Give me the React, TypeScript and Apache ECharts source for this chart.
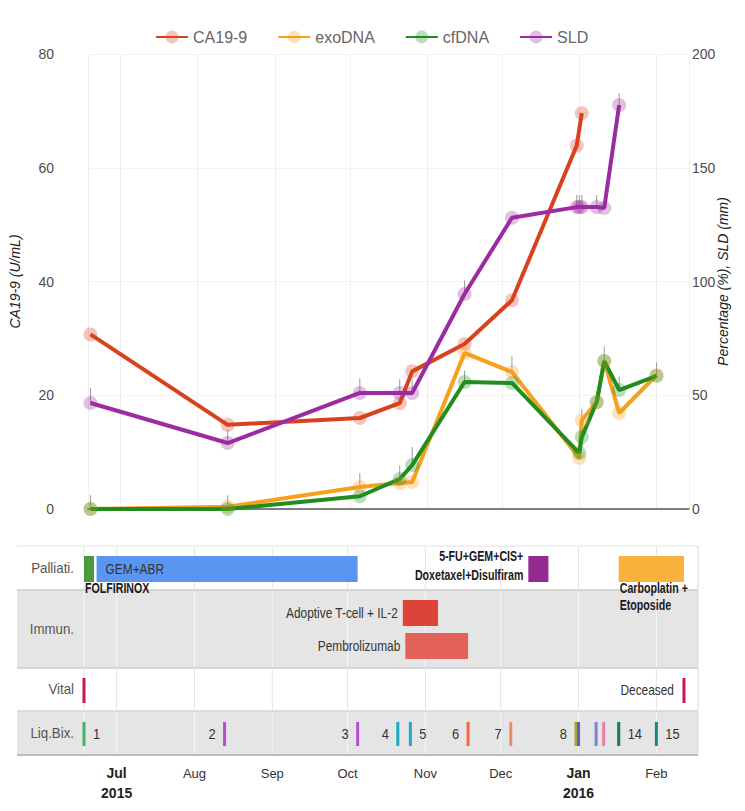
import React, { useEffect, useRef } from "react";
import * as echarts from "echarts";

// ---------- data ----------
const X_MIN = "2015-06-18";
const X_MAX = "2016-02-14";

const caDates = ["2015-06-19", "2015-08-13", "2015-10-05", "2015-10-21", "2015-10-26", "2015-11-16", "2015-12-05", "2015-12-31", "2016-01-02"];
const caValues = [30.7, 14.8, 16.0, 18.6, 24.2, 29.0, 36.7, 63.9, 69.6];

const sldDates = ["2015-06-19", "2015-08-13", "2015-10-05", "2015-10-21", "2015-10-26", "2015-11-16", "2015-12-05", "2015-12-31", "2016-01-01", "2016-01-02", "2016-01-08", "2016-01-11", "2016-01-17"];
const sldValues = [46.6, 29.0, 51.0, 51.0, 51.0, 94.5, 128.0, 132.7, 132.7, 132.7, 132.7, 132.3, 177.6];
const sldErr = [6.5, 6, 6.5, 6, 6, 6, 0, 5.3, 5.3, 5.3, 5.3, 0, 5.3];

const dnaDates = ["2015-06-19", "2015-08-13", "2015-10-05", "2015-10-21", "2015-10-26", "2015-11-16", "2015-12-05", "2016-01-01", "2016-01-02", "2016-01-08", "2016-01-11", "2016-01-17", "2016-02-01"];
const exoValues = [0, 1.0, 9.7, 11.4, 11.9, 68.6, 60.2, 22.4, 39.0, 47.0, 65.0, 42.2, 58.9];
const exoErr = [0, 0, 6, 0, 0, 0, 7, 0, 5, 0, 6.5, 0, 0];
const cfValues = [0, 0, 5.6, 13.2, 19.3, 55.8, 55.4, 24.6, 31.6, 47.0, 65.0, 52.3, 58.5];
const cfErr = [6, 6, 0, 6, 8, 5, 0, 0, 0, 0, 0, 6, 6];

const rowNames = ["Palliati.", "Immun.", "Vital", "Liq.Bix."];

const treatNames = ["FOLFIRINOX", "GEM+ABR", "5-FU+GEM+CIS+\nDoxetaxel+Disulfiram", "Carboplatin +\nEtoposide", "Adoptive T-cell + IL-2", "Pembrolizumab"];
const treatStart = ["2015-06-18", "2015-06-23", "2015-12-12", "2016-01-17", "2015-10-23", "2015-10-24"];
const treatEnd = ["2015-06-22", "2015-10-05", "2015-12-20", "2016-02-12", "2015-11-06", "2015-11-18"];
const treatLane = [0, 0, 0, 0, 1, 2];

const vitalDates = ["2015-06-18", "2016-02-12"];
const vitalLabels = ["", "Deceased"];

const liqDates = ["2015-06-18", "2015-08-13", "2015-10-05", "2015-10-21", "2015-10-26", "2015-11-18", "2015-12-05", "2015-12-31", "2016-01-01", "2016-01-08", "2016-01-11", "2016-01-17", "2016-02-01"];
const liqLabels = ["1", "2", "3", "4", "5", "6", "7", "8", "", "", "", "14", "15"];

const monthStarts = ["2015-07-01", "2015-08-01", "2015-09-01", "2015-10-01", "2015-11-01", "2015-12-01", "2016-01-01", "2016-02-01"];
const monthAbbr = ["Jan", "Feb", "Mar", "Apr", "May", "Jun", "Jul", "Aug", "Sep", "Oct", "Nov", "Dec"];

// ---------- styles / layout ----------
const COLORS = { ca: "#d9411e", exo: "#f7a01c", cf: "#1f8e1f", sld: "#9b2ba2" };
const TREAT_COLORS = ["#4b9a3c", "#5b95f2", "#952a91", "#f9b23b", "#dc4437", "#e2625a"];
const TREAT_LABEL_PLACE = ["below", "inside", "left", "below", "left", "left"];
const TREAT_LABEL_BOLD = [true, false, true, true, false, false];
const LIQ_COLORS = ["#3db36b", "#b44fd0", "#b44fd0", "#1fa8c4", "#1fa8c4", "#f0683f", "#f28a62", "#a9a334", "#5560b8", "#7b84d8", "#f07fa8", "#127a66", "#1a8a78"];
const LIQ_LABEL_SIDE = ["right", "left", "left", "left", "right", "left", "left", "left", "left", "left", "left", "right", "right"];
const VITAL_COLOR = "#c2185b";

const SANS = "'Liberation Sans', Arial, sans-serif";
const REG_SCALE = 0.85;
const BOLD_SCALE = 0.76;

const GRID_LEFT = 84;
const GRID_WIDTH = 605;
const TOP_GRID_TOP = 54;
const TOP_GRID_HEIGHT = 455;
const PANEL_TOP = 546;
const PANEL_HEIGHT = 209;
const PANEL_X0 = 17;
const PANEL_X1 = 698;
const ROW_EDGES = [0, 44, 122, 165, 209];
const ROW_BG = ["#ffffff", "#e5e5e5", "#ffffff", "#e5e5e5"];
const ROW_GRID = ["#e4e4e4", "#f6f6f6", "#e4e4e4", "#f6f6f6"];
const LANES = [[10, 36], [54, 80], [87, 113]];
const VITAL_BAND = [132, 157];
const LIQ_BAND = [176, 200];

function errSeries(name: string, dates: string[], vals: number[], errs: number[]) {
  return {
    name: name + "-err",
    type: "custom",
    xAxisIndex: 0,
    yAxisIndex: 1,
    silent: true,
    data: dates.map((d, i) => [d, vals[i], errs[i]]),
    renderItem: (params: any, api: any) => {
      const e = api.value(2);
      if (!e) return null;
      const p0 = api.coord([api.value(0), api.value(1)]);
      const p1 = api.coord([api.value(0), api.value(1) + e]);
      return { type: "line", shape: { x1: p0[0], y1: p0[1], x2: p1[0], y2: p1[1] }, style: { stroke: "#9a9a9a", lineWidth: 1 } };
    },
    z: 1,
  };
}

function lineSeries(name: string, dates: string[], vals: number[], color: string, yAxisIndex: number) {
  return {
    name,
    type: "line",
    xAxisIndex: 0,
    yAxisIndex,
    data: dates.map((d, i) => [d, vals[i]]),
    symbol: "circle",
    symbolSize: 14,
    lineStyle: { width: 4, color },
    itemStyle: { color, opacity: 0.3 },
    emphasis: { disabled: true },
  };
}

function scaledText(x: number, y: number, scale: number, style: any) {
  return { type: "text", x, y, scaleX: scale, style: { ...style, x: 0, y: 0 } };
}

const firstMonth = new Date(monthStarts[0] + "T00:00:00");

export default function App() {
  const ref = useRef<HTMLDivElement>(null);

  useEffect(() => {
    const chart = echarts.init(ref.current!, undefined, { renderer: "svg" });

    const graphics: any[] = [];
    for (let i = 0; i < 4; i++) {
      graphics.push({
        type: "rect",
        shape: { x: PANEL_X0, y: PANEL_TOP + ROW_EDGES[i], width: PANEL_X1 - PANEL_X0, height: ROW_EDGES[i + 1] - ROW_EDGES[i] },
        style: { fill: ROW_BG[i] },
        z: -10,
      });
      graphics.push({
        type: "text",
        x: 74,
        y: PANEL_TOP + (ROW_EDGES[i] + ROW_EDGES[i + 1]) / 2,
        scaleX: 0.95,
        style: {
          text: rowNames[i],
          x: 0,
          y: 0,
          align: "right",
          verticalAlign: "middle",
          fontSize: 14,
          fontFamily: SANS,
          fill: "#555",
        },
        z: -5,
      });
    }
    const borders = [
      { y: PANEL_TOP, c: "#e2e2e2", w: 1 },
      { y: PANEL_TOP + ROW_EDGES[1], c: "#cdcdcd", w: 1.5 },
      { y: PANEL_TOP + ROW_EDGES[2], c: "#cdcdcd", w: 1.5 },
      { y: PANEL_TOP + ROW_EDGES[3], c: "#d4d4d4", w: 1.5 },
      { y: PANEL_TOP + ROW_EDGES[4], c: "#bdbdbd", w: 2 },
    ];
    borders.forEach((b) =>
      graphics.push({ type: "line", shape: { x1: PANEL_X0, y1: b.y, x2: PANEL_X1, y2: b.y }, style: { stroke: b.c, lineWidth: b.w }, z: -4 })
    );
    graphics.push({ type: "line", shape: { x1: PANEL_X1, y1: PANEL_TOP, x2: PANEL_X1, y2: PANEL_TOP + PANEL_HEIGHT }, style: { stroke: "#d8d8d8", lineWidth: 1 }, z: -4 });

    const option: any = {
      animation: false,
      backgroundColor: "#ffffff",
      legend: {
        left: 150,
        top: 24,
        itemWidth: 32,
        itemHeight: 16,
        itemGap: 30,
        textStyle: { color: "#666", fontSize: 16, fontFamily: SANS },
        data: ["CA19-9", "exoDNA", "cfDNA", "SLD"],
      },
      graphic: graphics,
      grid: [
        { left: GRID_LEFT, top: TOP_GRID_TOP, width: GRID_WIDTH, height: TOP_GRID_HEIGHT },
        { left: GRID_LEFT, top: PANEL_TOP, width: GRID_WIDTH, height: PANEL_HEIGHT },
      ],
      xAxis: [
        {
          type: "time",
          gridIndex: 0,
          min: X_MIN,
          max: X_MAX,
          splitNumber: 8,
          maxInterval: 31 * 86400000,
          axisLine: { show: true, lineStyle: { color: "#555", width: 1.5 } },
          axisTick: { show: false },
          axisLabel: { show: false },
          splitLine: { show: true, lineStyle: { color: "#efefef", width: 1 } },
        },
        {
          type: "time",
          gridIndex: 1,
          min: X_MIN,
          max: X_MAX,
          splitNumber: 8,
          maxInterval: 31 * 86400000,
          axisLine: { show: false },
          axisTick: { show: false },
          splitLine: { show: false },
          axisLabel: {
            margin: 8,
            hideOverlap: false,
            formatter: (value: number) => {
              const d = new Date(value);
              const m = d.getMonth();
              const lab = monthAbbr[m];
              const isFirst = d.getFullYear() === firstMonth.getFullYear() && m === firstMonth.getMonth();
              if (isFirst || m === 0) return `{b|${lab}}\n{b|${d.getFullYear()}}`;
              return `{n|${lab}}`;
            },
            rich: {
              b: { fontWeight: "bold", fontSize: 14, color: "#222", fontFamily: SANS, lineHeight: 20 },
              n: { fontSize: 13, color: "#333", fontFamily: SANS, lineHeight: 20 },
            },
          },
        },
      ],
      yAxis: [
        {
          type: "value",
          gridIndex: 0,
          position: "left",
          min: 0,
          max: 80,
          interval: 20,
          name: "CA19-9 (U/mL)",
          nameLocation: "middle",
          nameRotate: 90,
          nameGap: 66,
          nameTextStyle: { fontStyle: "italic", fontSize: 14, color: "#222", fontFamily: SANS },
          axisLine: { show: false },
          axisTick: { show: false },
          axisLabel: { fontSize: 14, color: "#4d4d4d", margin: 34, fontFamily: SANS },
          splitLine: { show: true, lineStyle: { color: "#f3f3f3" } },
        },
        {
          type: "value",
          gridIndex: 0,
          position: "right",
          min: 0,
          max: 200,
          interval: 50,
          name: "Percentage (%), SLD (mm)",
          nameLocation: "middle",
          nameRotate: 90,
          nameGap: 27,
          nameMoveOverlap: false,
          nameTextStyle: { fontStyle: "italic", fontSize: 14, color: "#222", fontFamily: SANS },
          axisLine: { show: false },
          axisTick: { show: false },
          axisLabel: { fontSize: 14, color: "#4d4d4d", margin: 3, fontFamily: SANS },
          splitLine: { show: false },
        },
        {
          type: "value",
          gridIndex: 1,
          min: 0,
          max: PANEL_HEIGHT,
          inverse: true,
          show: false,
        },
      ],
      series: [
        // bottom panel: month grid lines
        {
          type: "custom",
          xAxisIndex: 1,
          yAxisIndex: 2,
          silent: true,
          clip: false,
          z: 0,
          data: [X_MIN, ...monthStarts].map((d) => [d]),
          renderItem: (params: any, api: any) => {
            const x = api.coord([api.value(0), 0])[0];
            const children: any[] = [];
            for (let i = 0; i < 4; i++) {
              const y0 = api.coord([api.value(0), ROW_EDGES[i] + 1])[1];
              const y1 = api.coord([api.value(0), ROW_EDGES[i + 1] - 1])[1];
              children.push({ type: "line", shape: { x1: x, y1: y0, x2: x, y2: y1 }, style: { stroke: ROW_GRID[i], lineWidth: 1 } });
            }
            return { type: "group", children };
          },
        },
        // treatments
        {
          type: "custom",
          xAxisIndex: 1,
          yAxisIndex: 2,
          silent: true,
          clip: false,
          z: 3,
          dimensions: [
            { name: "start", type: "time" },
            { name: "end", type: "time" },
            { name: "lane", type: "number" },
          ],
          encode: { x: [0, 1], y: 2 },
          data: treatNames.map((n, i) => [treatStart[i], treatEnd[i], treatLane[i]]),
          renderItem: (params: any, api: any) => {
            const i = params.dataIndex;
            const lane = LANES[api.value(2)];
            const p0 = api.coord([api.value(0), lane[0]]);
            const p1 = api.coord([api.value(1), lane[1]]);
            const rect = {
              type: "rect",
              shape: { x: p0[0], y: p0[1], width: p1[0] - p0[0], height: p1[1] - p0[1] },
              style: { fill: TREAT_COLORS[i] },
            };
            const place = TREAT_LABEL_PLACE[i];
            const bold = TREAT_LABEL_BOLD[i];
            const midY = (p0[1] + p1[1]) / 2;
            const base: any = {
              text: treatNames[i],
              fontSize: 14,
              fontWeight: bold ? "bold" : "normal",
              fontFamily: SANS,
              fill: bold ? "#1a1a1a" : "#333",
            };
            const sc = bold ? BOLD_SCALE : REG_SCALE;
            let txt: any;
            if (place === "below") {
              txt = scaledText(p0[0] + 1, p1[1] - 2, sc, { ...base, align: "left", verticalAlign: "top", lineHeight: 17 });
            } else if (place === "inside") {
              txt = scaledText(p0[0] + 9, midY, sc, { ...base, align: "left", verticalAlign: "middle" });
            } else {
              const multi = treatNames[i].indexOf("\n") >= 0;
              txt = scaledText(p0[0] - 5, midY - (multi ? 3 : 0), sc, { ...base, align: "right", verticalAlign: "middle", lineHeight: 20 });
            }
            return { type: "group", children: [rect, txt] };
          },
        },
        // vital
        {
          type: "custom",
          xAxisIndex: 1,
          yAxisIndex: 2,
          silent: true,
          clip: false,
          z: 3,
          data: vitalDates.map((d) => [d]),
          renderItem: (params: any, api: any) => {
            const i = params.dataIndex;
            const p0 = api.coord([api.value(0), VITAL_BAND[0]]);
            const p1 = api.coord([api.value(0), VITAL_BAND[1]]);
            const children: any[] = [
              { type: "line", shape: { x1: p0[0], y1: p0[1], x2: p1[0], y2: p1[1] }, style: { stroke: VITAL_COLOR, lineWidth: 3 } },
            ];
            if (vitalLabels[i]) {
              children.push(
                scaledText(p0[0] - 10, (p0[1] + p1[1]) / 2, REG_SCALE, {
                  text: vitalLabels[i],
                  align: "right",
                  verticalAlign: "middle",
                  fontSize: 14,
                  fontFamily: SANS,
                  fill: "#333",
                })
              );
            }
            return { type: "group", children };
          },
        },
        // liquid biopsies
        {
          type: "custom",
          xAxisIndex: 1,
          yAxisIndex: 2,
          silent: true,
          clip: false,
          z: 3,
          data: liqDates.map((d) => [d]),
          renderItem: (params: any, api: any) => {
            const i = params.dataIndex;
            const p0 = api.coord([api.value(0), LIQ_BAND[0]]);
            const p1 = api.coord([api.value(0), LIQ_BAND[1]]);
            const children: any[] = [
              { type: "line", shape: { x1: p0[0], y1: p0[1], x2: p1[0], y2: p1[1] }, style: { stroke: LIQ_COLORS[i], lineWidth: 3 } },
            ];
            if (liqLabels[i]) {
              const right = LIQ_LABEL_SIDE[i] === "right";
              children.push(
                scaledText(p0[0] + (right ? 9 : -9), (p0[1] + p1[1]) / 2, 0.92, {
                  text: liqLabels[i],
                  align: right ? "left" : "right",
                  verticalAlign: "middle",
                  fontSize: 14,
                  fontFamily: SANS,
                  fill: "#333",
                })
              );
            }
            return { type: "group", children };
          },
        },
        // top chart
        errSeries("sld", sldDates, sldValues, sldErr),
        errSeries("exo", dnaDates, exoValues, exoErr),
        errSeries("cf", dnaDates, cfValues, cfErr),
        lineSeries("CA19-9", caDates, caValues, COLORS.ca, 0),
        lineSeries("exoDNA", dnaDates, exoValues, COLORS.exo, 1),
        lineSeries("cfDNA", dnaDates, cfValues, COLORS.cf, 1),
        lineSeries("SLD", sldDates, sldValues, COLORS.sld, 1),
      ],
    };

    chart.setOption(option);
    return () => chart.dispose();
  }, []);

  return <div ref={ref} style={{ position: "absolute", left: 0, top: 0, width: 745, height: 811 }} />;
}
